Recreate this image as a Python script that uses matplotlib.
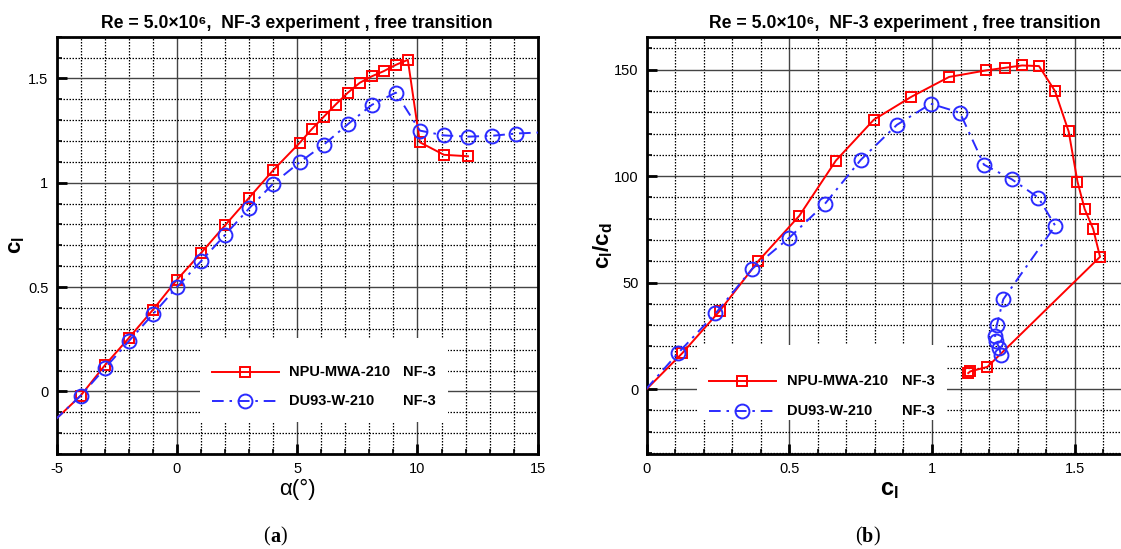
import matplotlib
matplotlib.use("Agg")
import matplotlib.pyplot as plt
from matplotlib.patches import Rectangle
from matplotlib.lines import Line2D
from matplotlib.ticker import MultipleLocator

plt.rcParams['font.family'] = ['Liberation Sans', 'DejaVu Sans']
plt.rcParams['mathtext.fontset'] = 'custom'
plt.rcParams['mathtext.bf'] = 'Liberation Sans:bold'
plt.rcParams['mathtext.rm'] = 'Liberation Sans'
plt.rcParams['axes.unicode_minus'] = False

# ---- NPU-MWA-210, NF-3 experiment ----
alpha_npu = [-5.1, -4, -3, -2, -1, 0, 1, 2, 3, 4,
             5.1, 5.6, 6.1, 6.6, 7.1, 7.6, 8.1, 8.6, 9.1, 9.6,
             10.1, 11.1, 12.1]
cl_npu = [-0.14, -0.02, 0.125, 0.256, 0.391, 0.535, 0.663, 0.796, 0.928, 1.06,
          1.191, 1.256, 1.316, 1.375, 1.431, 1.479, 1.51, 1.535, 1.565, 1.589,
          1.194, 1.134, 1.127]
ld_npu = [-16, -2.7, 16.9, 36.7, 60.1, 81.4, 107.3, 126.5, 137.3, 146.6,
          149.7, 150.9, 152.0, 151.7, 140.0, 121.0, 97.4, 84.6, 75.2, 62.1,
          10.4, 8.3, 7.5]

# ---- DU93-W-210, NF-3 experiment ----
alpha_du = [-5.1, -4, -3, -2, -1, 0, 1, 2, 3, 4,
            5.1, 6.1, 7.1, 8.1, 9.1, 10.1, 11.1, 12.1, 13.1, 14.1, 15.1]
cl_du = [-0.14, -0.02, 0.11, 0.241, 0.37, 0.50, 0.624, 0.75, 0.877, 0.996,
         1.098, 1.182, 1.28, 1.373, 1.432, 1.25, 1.227, 1.221, 1.225, 1.236, 1.241]
ld_du = [-16, -2.7, 16.9, 35.5, 56.5, 71.1, 86.9, 107.6, 124.1, 134.0,
         129.8, 105.4, 98.5, 89.9, 76.7, 42.2, 30.0, 25.0, 22.4, 19.3, 16.2]

name_npu = "NPU-MWA-210"
name_du = "DU93-W-210"
tag = "NF-3"
title = "Re = 5.0\u00d710\u2076,  NF-3 experiment , free transition"

RED = "#ff0000"
BLUE = "#2b2bff"
DASHDOT = (0, (6, 3, 1.3, 3))

fig = plt.figure(figsize=(11.21, 5.49), dpi=100)
W, H = 1121.0, 549.0


def px_axes(left, top, right, bottom):
    return fig.add_axes([left / W, (H - bottom) / H, (right - left) / W, (bottom - top) / H])


ax1 = px_axes(56.7, 36.7, 537.7, 454)
ax2 = px_axes(646.7, 36.7, 646.7 + 485, 454)


def style(ax, xmaj, xmin, ymaj, ymin):
    ax.set_axisbelow(True)
    ax.xaxis.set_major_locator(MultipleLocator(xmaj))
    ax.xaxis.set_minor_locator(MultipleLocator(xmin))
    ax.yaxis.set_major_locator(MultipleLocator(ymaj))
    ax.yaxis.set_minor_locator(MultipleLocator(ymin))
    ax.grid(which='major', color='#444444', lw=1.0, ls='-')
    ax.grid(which='minor', color='black', lw=0.9, ls=(0, (1.2, 1.2)))
    ax.tick_params(which='major', direction='in', length=7, width=2,
                   labelsize=10.5, pad=6, top=False, right=False)
    ax.tick_params(which='minor', direction='in', length=3.5, width=1.2,
                   top=False, right=False)
    for s in ax.spines.values():
        s.set_linewidth(2.0)


def inside(xs, ys, xlim, ylim):
    # indices of points that lie within the visible window
    return [i for i, (x, y) in enumerate(zip(xs, ys))
            if xlim[0] <= x <= xlim[1] and ylim[0] <= y <= ylim[1]]


def curve(ax, xs, ys, xlim, ylim, color, ls, marker, ms):
    ax.plot(xs, ys, color=color, lw=1.4, ls=ls, marker=marker, ms=ms,
            markevery=inside(xs, ys, xlim, ylim),
            mfc='none', mec=color, mew=1.4, zorder=3)


def legend_box(ax, box, x0, x1, xt, xtag, rows):
    ax.add_patch(Rectangle(box[:2], box[2], box[3], transform=ax.transAxes,
                           facecolor='white', edgecolor='none', zorder=1))
    for (y, color, ls, marker, ms, label) in rows:
        ax.add_line(Line2D([x0, (x0 + x1) / 2, x1], [y, y, y], transform=ax.transAxes,
                           color=color, ls=ls, lw=1.4, marker=marker, markevery=[1],
                           ms=ms, mfc='none', mec=color, mew=1.4, zorder=3))
        ax.text(xt, y, label, transform=ax.transAxes, fontsize=10.5,
                fontweight='bold', va='center', ha='left', zorder=3)
        ax.text(xtag, y, tag, transform=ax.transAxes, fontsize=10.5,
                fontweight='bold', va='center', ha='left', zorder=3)


# ---- (a) lift curve ----
xl1, yl1 = (-5, 15), (-0.3, 1.7)
style(ax1, 5, 1, 0.5, 0.1)
curve(ax1, alpha_npu, cl_npu, xl1, yl1, RED, '-', 's', 7.5)
curve(ax1, alpha_du, cl_du, xl1, yl1, BLUE, DASHDOT, 'o', 10)
ax1.set_xlim(*xl1)
ax1.set_ylim(*yl1)
ax1.set_xticks([-5, 0, 5, 10, 15])
ax1.set_yticks([0, 0.5, 1, 1.5])
ax1.set_yticklabels(['0', '0.5', '1', '1.5'])
ax1.set_xlabel("\u03b1(\u00b0)", fontsize=16, labelpad=2)
ax1.set_ylabel(r"$\mathbf{c_l}$", fontsize=16, labelpad=1)
ax1.set_title(title, fontsize=12.7, fontweight='bold', pad=6)
legend_box(ax1, (0.298, 0.077, 0.515, 0.201), 0.322, 0.462, 0.483, 0.720,
           [(0.197, RED, '-', 's', 7.5, name_npu),
            (0.128, BLUE, DASHDOT, 'o', 10, name_du)])

# ---- (b) lift-to-drag ratio vs lift ----
xl2, yl2 = (0, 1.7), (-30.5, 165.5)
style(ax2, 0.5, 0.1, 50, 10)
curve(ax2, cl_npu, ld_npu, xl2, yl2, RED, '-', 's', 7.5)
curve(ax2, cl_du, ld_du, xl2, yl2, BLUE, DASHDOT, 'o', 10)
ax2.set_xlim(*xl2)
ax2.set_ylim(*yl2)
ax2.set_xticks([0, 0.5, 1, 1.5])
ax2.set_xticklabels(['0', '0.5', '1', '1.5'])
ax2.set_yticks([0, 50, 100, 150])
ax2.set_xlabel(r"$\mathbf{c_l}$", fontsize=17, labelpad=2)
ax2.set_ylabel(r"$\mathbf{c_l/c_d}$", fontsize=16, labelpad=-1)
ax2.set_title(title, fontsize=12.7, fontweight='bold', pad=6, x=0.533)
legend_box(ax2, (0.1037, 0.0815, 0.515, 0.18), 0.128, 0.267, 0.289, 0.527,
           [(0.175, RED, '-', 's', 7.5, name_npu),
            (0.103, BLUE, DASHDOT, 'o', 10, name_du)])

# ---- panel captions ----
for xc, letter in [(270 / W, 'a'), (862 / W, 'b')]:
    t1 = fig.text(xc, 1 - 537 / H, "(", fontsize=14.5, family='Liberation Serif',
                  ha='right', va='center')
    a = plt.annotate(letter, xy=(1, 0), xycoords=t1, va='bottom', ha='left',
                     fontsize=14.5, family='Liberation Serif', fontweight='bold')
    plt.annotate(")", xy=(1, 0), xycoords=a, va='bottom', ha='left',
                 fontsize=14.5, family='Liberation Serif')

fig.savefig("out.png", dpi=100)
